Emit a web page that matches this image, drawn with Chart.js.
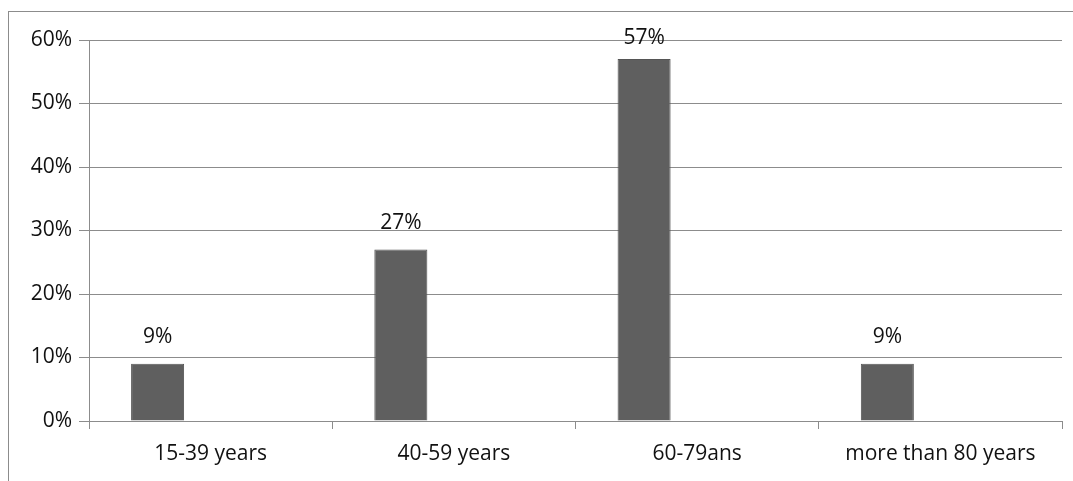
<!DOCTYPE html>
<html>
<head>
<meta charset="utf-8">
<script src="https://cdn.jsdelivr.net/npm/chart.js@4"></script>
<style>
    body { margin: 0; background: #fff; }
    #wrap { position: relative; width: 1073px; height: 481px; overflow: hidden; }
    #frame { position: absolute; left: 8px; top: 11px; width: 1200px; height: 600px;
             border-left: 1px solid #8c8c8c; border-top: 1px solid #8c8c8c; }
    canvas { position: absolute; left: 0; top: 0; }
</style>
</head>
<body>
<div id="wrap">
    <div id="frame"></div>
    <canvas id="ageChart" width="1073" height="481"></canvas>
</div>
<script>
// Категории и значения (в процентах)
const categories = ['15-39 years', '40-59 years', '60-79ans', 'more than 80 years'];
const shares = [9, 27, 57, 9];
const yTicks = [0, 10, 20, 30, 40, 50, 60];

const FONT = { family: '"Open Sans", sans-serif', size: 21 };

// Подписи над столбцами
const valueLabels = {
    id: 'valueLabels',
    afterDatasetsDraw(chart) {
        const ctx = chart.ctx;
        const meta = chart.getDatasetMeta(0);
        ctx.save();
        ctx.font = `${FONT.size}px ${FONT.family}`;
        ctx.fillStyle = '#111';
        ctx.textAlign = 'center';
        ctx.textBaseline = 'middle';
        meta.data.forEach((bar, i) => {
            ctx.fillText(shares[i] + '%', bar.x, Math.max(bar.y - 27, 38));
        });
        ctx.restore();
    }
};

const ageChart = new Chart(document.getElementById('ageChart').getContext('2d'), {
    type: 'bar',
    data: {
        labels: categories,
        datasets: [
            { data: shares, backgroundColor: '#5f5f5f', borderColor: '#555555', borderWidth: 1 },
            // пустые серии, как в исходной таблице Excel
            { data: [] },
            { data: [] }
        ]
    },
    options: {
        responsive: false,
        animation: false,
        categoryPercentage: 0.654,
        barPercentage: 1,
        layout: { padding: { top: 40, right: 11, left: 0, bottom: 0 } },
        plugins: {
            legend: { display: false },
            tooltip: { enabled: false }
        },
        scales: {
            y: {
                min: 0,
                max: 60,
                afterFit(scale) { scale.width = 89; },
                afterBuildTicks(scale) { scale.ticks = yTicks.map(v => ({ value: v })); },
                ticks: {
                    callback: v => v + '%',
                    color: '#111',
                    font: FONT,
                    padding: 7
                },
                grid: { color: '#8c8c8c', tickLength: 10, lineWidth: 1 },
                border: { color: '#8c8c8c' }
            },
            x: {
                afterFit(scale) { scale.height = 60; },
                ticks: { color: '#111', font: FONT, padding: 12 },
                grid: { offset: true, drawOnChartArea: false, color: '#8c8c8c', tickLength: 8 },
                border: { color: '#8c8c8c' }
            }
        }
    },
    plugins: [valueLabels]
});
</script>
</body>
</html>
